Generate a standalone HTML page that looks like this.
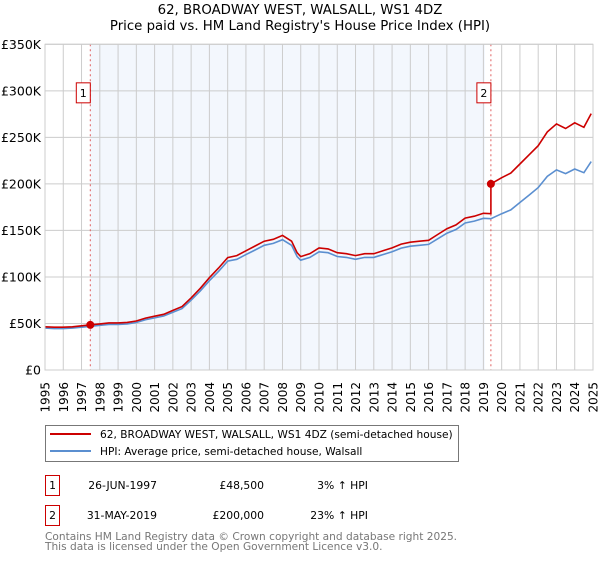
<!DOCTYPE html>
<html><head><meta charset="utf-8"><style>
body{margin:0;background:#fff;font-family:"DejaVu Sans","Liberation Sans",sans-serif}
svg text{font-family:"DejaVu Sans","Liberation Sans",sans-serif}
</style></head><body>
<svg id="c" width="600" height="560" xmlns="http://www.w3.org/2000/svg">
<text x="300" y="14" font-size="13.3" text-anchor="middle">62, BROADWAY WEST, WALSALL, WS1 4DZ</text>
<text x="300" y="30" font-size="13.3" text-anchor="middle">Price paid vs. HM Land Registry's House Price Index (HPI)</text>
<g id="plot"></g>
<g>
<rect x="45.5" y="425.5" width="413" height="36" fill="#fff" stroke="#777"/>
<line x1="50" y1="434" x2="91" y2="434" stroke="#cc0000" stroke-width="2"/>
<text x="100" y="438" font-size="10.6">62, BROADWAY WEST, WALSALL, WS1 4DZ (semi-detached house)</text>
<line x1="50" y1="451" x2="91" y2="451" stroke="#5b8fd0" stroke-width="2"/>
<text x="100" y="455" font-size="10.6">HPI: Average price, semi-detached house, Walsall</text>
</g>
<g font-size="10.8">
<rect x="45.5" y="475.5" width="14" height="20" fill="#fff" stroke="#cc0000"/>
<text x="52.5" y="489" text-anchor="middle">1</text>
<text x="157" y="489" text-anchor="end">26-JUN-1997</text>
<text x="264" y="489" text-anchor="end">£48,500</text>
<text x="368" y="489" text-anchor="end">3% ↑ HPI</text>
<rect x="45.5" y="505.5" width="14" height="20" fill="#fff" stroke="#cc0000"/>
<text x="52.5" y="519" text-anchor="middle">2</text>
<text x="157" y="519" text-anchor="end">31-MAY-2019</text>
<text x="264" y="519" text-anchor="end">£200,000</text>
<text x="368" y="519" text-anchor="end">23% ↑ HPI</text>
</g>
<text x="45" y="540" font-size="10.6" fill="#777">Contains HM Land Registry data © Crown copyright and database right 2025.</text>
<text x="45" y="550" font-size="10.6" fill="#777">This data is licensed under the Open Government Licence v3.0.</text>
</svg>
<script>
const years=[1995,1995.5,1996,1996.5,1997,1997.5,1998,1998.5,1999,1999.5,2000,2000.5,2001,2001.5,2002,2002.5,2003,2003.5,2004,2004.5,2005,2005.5,2006,2006.5,2007,2007.5,2008,2008.5,2008.8,2009,2009.5,2010,2010.5,2011,2011.5,2012,2012.5,2013,2013.5,2014,2014.5,2015,2015.5,2016,2016.5,2017,2017.5,2018,2018.5,2019,2019.41,2020,2020.5,2021,2021.5,2022,2022.5,2023,2023.5,2024,2024.5,2024.9];
const hpi=[45,44.5,44.5,45,46,47,48,49,49,49.5,51,54,56,58,62,66,75,85,96,106,117,119,124,129,134,136,140,134,122,118,121,127,126,122,121,119,121,121,124,127,131,133,134,135,141,147,151,158,160,163,162.6,168,172,180,188,196,208,215,211,216,212,224];
const saleYears=[1997.48,2019.41];
const salePrices=[48.5,200];
const yTicks=[0,50,100,150,200,250,300,350];
const yTickLabels=["£0","£50K","£100K","£150K","£200K","£250K","£300K","£350K"];
const xTicks=[1995,1996,1997,1998,1999,2000,2001,2002,2003,2004,2005,2006,2007,2008,2009,2010,2011,2012,2013,2014,2015,2016,2017,2018,2019,2020,2021,2022,2023,2024,2025];

const X0=45,X1=593,Y0=370,Y1=44.3;
const x=v=>X0+(v-1995)/30*(X1-X0);
const y=v=>Y0-v/350*(Y0-Y1);
const NS="http://www.w3.org/2000/svg";
const g=document.getElementById('plot');
function mk(t,a,p){const e=document.createElementNS(NS,t);for(const k in a)e.setAttribute(k,a[k]);(p||g).appendChild(e);return e;}
function hpiAt(t){for(let i=1;i<years.length;i++){if(t<=years[i]){const f=(t-years[i-1])/(years[i]-years[i-1]);return hpi[i-1]+f*(hpi[i]-hpi[i-1]);}}return hpi[hpi.length-1];}

const bg=mk('rect',{x:X0,y:Y1,width:X1-X0,height:Y0-Y1,fill:'#fff'});


const sh=mk('rect',{x:x(saleYears[0]),y:Y1,width:x(saleYears[1])-x(saleYears[0])-6,height:Y0-Y1,fill:'#eef3fc',opacity:0.7});


xTicks.forEach(t=>{const l=mk('line',{x1:x(t),x2:x(t),y1:Y1,y2:Y0,stroke:'#ccc'});


const tx=mk('text',{x:0,y:0,'font-size':12,'text-anchor':'end',transform:`translate(${x(t)+4.5},${Y0+12}) rotate(-90)`});tx.textContent=t;

});
yTicks.forEach((t,i)=>{const l=mk('line',{x1:X0,x2:X1,y1:y(t),y2:y(t),stroke:'#ccc'});


const tx=mk('text',{x:X0-4,y:y(t)+4.5,'font-size':12.5,'text-anchor':'end'});tx.textContent=yTickLabels[i];

});
saleYears.forEach((s,i)=>{const l=mk('line',{x1:x(s),x2:x(s),y1:Y1,y2:Y0,stroke:'#e06060','stroke-dasharray':'2,3'});


const r=mk('rect',{x:x(s)-14,y:y(300)-8,width:14,height:20,fill:'#fff',stroke:'#cc0000'});


const tx=mk('text',{x:x(s)-7,y:y(300)+6,'font-size':11,'text-anchor':'middle'});tx.textContent=String(i+1);

});

let d='';years.forEach((t,i)=>{d+=(i?'L':'M')+x(t).toFixed(1)+','+y(hpi[i]).toFixed(1);});
const hl=mk('path',{d:d,fill:'none',stroke:'#5b8fd0','stroke-width':1.6});


const r1=salePrices[0]/hpiAt(saleYears[0]),r2=salePrices[1]/hpiAt(saleYears[1]);
let p='';
years.forEach((t,i)=>{const v=t<saleYears[1]-0.001?hpi[i]*r1:null;if(v!==null)p+=(p?'L':'M')+x(t).toFixed(1)+','+y(v).toFixed(1);});
p+='L'+x(saleYears[1]).toFixed(1)+','+y(hpiAt(saleYears[1])*r1).toFixed(1);
p+='L'+x(saleYears[1]).toFixed(1)+','+y(salePrices[1]).toFixed(1);
years.forEach((t,i)=>{if(t>saleYears[1]+0.001)p+='L'+x(t).toFixed(1)+','+y(hpi[i]*r2).toFixed(1);});
const pl=mk('path',{d:p,fill:'none',stroke:'#cc0000','stroke-width':1.6});


saleYears.forEach((s,i)=>{const c=mk('circle',{cx:x(s),cy:y(salePrices[i]),r:4,fill:'#cc0000'});

});
const fr=mk('rect',{x:X0,y:Y1,width:X1-X0,height:Y0-Y1,fill:'none',stroke:'#ccc'});


</script>
</body></html>
